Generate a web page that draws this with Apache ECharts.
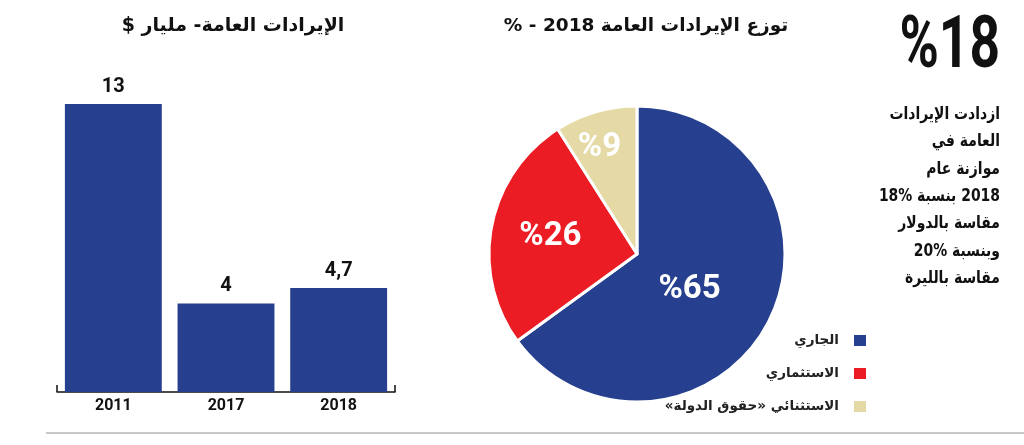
<!DOCTYPE html>
<html>
<head>
<meta charset="utf-8">
<script src="https://cdn.jsdelivr.net/npm/echarts@6/dist/echarts.min.js"></script>
<style>
html,body{margin:0;padding:0;background:#fff;}
#chart{width:1024px;height:445px;}
</style>
</head>
<body>
<div id="chart" dir="rtl"></div>
<script>
// ---- data ----
const barTitle = 'الإيرادات العامة- مليار $';
const pieTitle = 'توزع الإيرادات العامة 2018 - %';
const categories = ['2011', '2017', '2018'];
const revenues = [13, 4, 4.7];
const pieNames = ['الجاري', 'الاستثماري', 'الاستثنائي «حقوق الدولة»'];
const pieShares = [65, 26, 9];
const bigFigure = '%18';
const noteLines = [
  'ازدادت الإيرادات',
  'العامة في',
  'موازنة عام',
  '2018 بنسبة %18',
  'مقاسة بالدولار',
  'وبنسبة %20',
  'مقاسة بالليرة'
];

// ---- styles ----
const BLUE = '#26408f', RED = '#ec1c24', BEIGE = '#e5d9a6';
const NUM_FONT = '"Liberation Sans Narrow", "Roboto", "DejaVu Sans", sans-serif';
const AR_FONT = '"DejaVu Sans", sans-serif';
const pieColors = [BLUE, RED, BEIGE];
const pieLabelOffsets = [[-16, 1], [-11, -3], [-16, -32]];

const chart = echarts.init(document.getElementById('chart'), null, {renderer: 'canvas'});

chart.setOption({
  animation: false,
  backgroundColor: '#fff',
  title: [
    {text: barTitle, left: 228, top: 12, textAlign: 'center',
     textStyle: {fontFamily: AR_FONT, fontWeight: 'bold', fontSize: 19, color: '#111'}},
    {text: pieTitle, left: 641, top: 12, textAlign: 'center',
     textStyle: {fontFamily: AR_FONT, fontWeight: 'bold', fontSize: 18.5, color: '#111'}}
  ],
  legend: {
    data: pieNames,
    orient: 'vertical',
    right: 151,
    top: 328,
    align: 'right',
    icon: 'rect',
    itemWidth: 14,
    itemHeight: 13,
    itemGap: 18,
    selectedMode: false,
    textStyle: {fontFamily: AR_FONT, fontWeight: 'bold', fontSize: 13.5, color: '#222',
                padding: [0, 9, 0, 0]}
  },
  grid: {left: 57, width: 338, top: 104, bottom: 53, containLabel: false},
  xAxis: {
    type: 'category',
    data: categories,
    axisLine: {show: true, lineStyle: {color: '#111', width: 1.5}},
    axisTick: {show: true, inside: true, length: 7, lineStyle: {color: '#111', width: 1.5},
               interval: function (idx) { return idx === 0; }},
    axisLabel: {fontFamily: NUM_FONT, fontWeight: 'bold', fontSize: 16, color: '#111', margin: 6}
  },
  yAxis: {type: 'value', min: 0, max: 13, show: false, splitLine: {show: false}},
  series: [
    {
      type: 'bar',
      data: revenues,
      barCategoryGap: '14%',
      itemStyle: {color: BLUE},
      label: {
        show: true, position: 'top', distance: 7,
        fontFamily: NUM_FONT, fontWeight: 'bold', fontSize: 20, color: '#111',
        formatter: p => String(p.value).replace('.', ',')
      },
      emphasis: {disabled: true}
    },
    {
      type: 'pie',
      center: [637, 254],
      radius: 148,
      startAngle: 90,
      clockwise: true,
      avoidLabelOverlap: false,
      emphasis: {disabled: true},
      itemStyle: {borderColor: '#fff', borderWidth: 3},
      label: {
        show: true, position: 'inside',
        fontFamily: NUM_FONT, fontWeight: 'bold', fontSize: 33, color: '#fff',
        formatter: '%{c}'
      },
      labelLine: {show: false},
      data: pieNames.map((n, i) => ({
        name: n, value: pieShares[i],
        itemStyle: {color: pieColors[i]},
        label: {offset: pieLabelOffsets[i]}
      }))
    }
  ],
  graphic: [
    {type: 'text', x: 1000, y: 13, scaleX: 0.74,
     style: {text: bigFigure, font: 'bold 72px ' + NUM_FONT, fill: '#111', align: 'right', verticalAlign: 'top'}},
    {type: 'text', x: 1000, y: 101, scaleX: 0.82,
     style: {text: noteLines.join('\n'), font: 'bold 17px ' + AR_FONT, fill: '#111',
             align: 'right', verticalAlign: 'top', lineHeight: 27.3}},
    {type: 'line', shape: {x1: 46, y1: 433, x2: 1024, y2: 433},
     style: {stroke: '#c8c8c8', lineWidth: 2}}
  ]
});
</script>
</body>
</html>
